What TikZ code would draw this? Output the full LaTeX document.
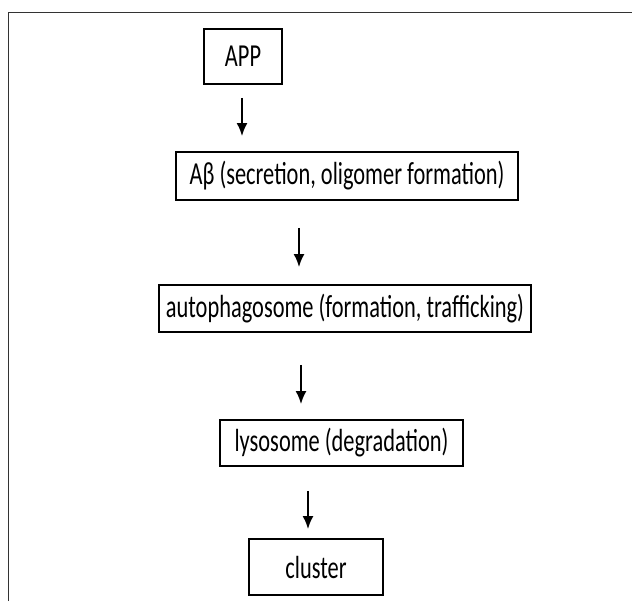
\documentclass[tikz,border=0pt]{standalone}
\usepackage{fontspec}
\setmainfont{Carlito}[FakeStretch=0.7]
\usetikzlibrary{arrows.meta}
\tikzset{
  stagebox/.style={draw, line width=0.9pt, inner sep=0pt, font=\fontsize{16}{19}\selectfont},
  flow/.style={->, line width=1pt},
}
\begin{document}
\begin{tikzpicture}[x=0.5pt, y=0.5pt, >={Latex[length=6.5pt,width=5.5pt]}]
            \useasboundingbox (0,0) rectangle (641,601);
            \draw[line width=0.5pt, black!80] (8.5,0) -- (8.5,588) -- (632,588);
            \node[stagebox, minimum width=39pt, minimum height=27.5pt] (app) at (243,544.5) {APP};
            \node[stagebox, minimum width=171pt, minimum height=24pt] (abeta) at (347,425) {Aβ (secretion, oligomer formation)};
            \node[stagebox, minimum width=186pt, minimum height=23.5pt] (autoph) at (345,292.5) {autophagosome (formation, trafficking)};
            \node[stagebox, minimum width=121.5pt, minimum height=23pt] (lyso) at (341.5,158) {lysosome (degradation)};
            \node[stagebox, minimum width=67pt, minimum height=28pt] (clus) at (316,34) {cluster};
            \coordinate (a1) at (242,0); \coordinate (a2) at (299,0);
            \coordinate (a3) at (301,0); \coordinate (a4) at (308,0);
            \draw[flow, shorten <=6.5pt, shorten >=7.5pt] (app.south -| a1) -- (abeta.north -| a1);
            \draw[flow, shorten <=13.5pt, shorten >=8.5pt] (abeta.south -| a2) -- (autoph.north -| a2);
            \draw[flow, shorten <=16pt, shorten >=7.5pt] (autoph.south -| a3) -- (lyso.north -| a3);
            \draw[flow, shorten <=12pt, shorten >=4.5pt] (lyso.south -| a4) -- (clus.north -| a4);
        \end{tikzpicture}
\end{document}
